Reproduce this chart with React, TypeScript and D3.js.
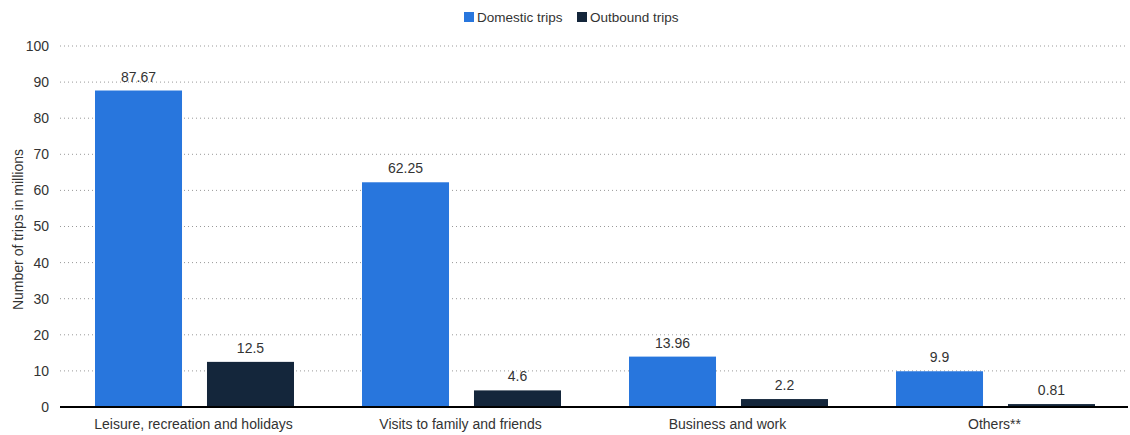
import React from "react";
import * as d3 from "d3";

const categories = ["Leisure, recreation and holidays", "Visits to family and friends", "Business and work", "Others**"];
const seriesNames = ["Domestic trips", "Outbound trips"];
const domesticValues = [87.67, 62.25, 13.96, 9.9];
const outboundValues = [12.5, 4.6, 2.2, 0.81];
const yTicks = [0, 10, 20, 30, 40, 50, 60, 70, 80, 90, 100];
const colors = ["#2876DD", "#14263B"];

export default function App() {
  const W = 1130, H = 435;
  const left = 60, right = 1128, top = 46, bottom = 407;
  const y = d3.scaleLinear().domain([0, 100]).range([bottom, top]);
  const x0 = d3.scaleBand<string>().domain(categories).range([left, right]).padding(0);
  const x1 = d3.scaleBand<string>().domain(seriesNames).range([35, 234]).paddingInner(0.223).paddingOuter(0);
  const series = [domesticValues, outboundValues];
  const font = "'Liberation Sans', Arial, sans-serif";
  return (
    <svg width={W} height={H} style={{ position: "absolute", left: 0, top: 0, fontFamily: font }}>
      <rect width={W} height={H} fill="#fff" />
      {/* legend */}
      <g>
        <rect x={464} y={12} width={10} height={10} fill={colors[0]} />
        <text x={477} y={22} fontSize={13.5} fill="#333">{seriesNames[0]}</text>
        <rect x={577} y={12} width={10} height={10} fill={colors[1]} />
        <text x={590} y={22} fontSize={13.5} fill="#333">{seriesNames[1]}</text>
      </g>
      {/* grid */}
      {yTicks.map((t) => (
        <g key={t}>
          {t > 0 && (
            <line x1={left} x2={right} y1={y(t)} y2={y(t)} stroke="#999" strokeWidth={1} strokeDasharray="1,3" />
          )}
          <text x={49} y={y(t)} dy="0.35em" textAnchor="end" fontSize={14} fill="#333">{t}</text>
        </g>
      ))}
      <text transform={`translate(23,${(top + bottom) / 2 + 3}) rotate(-90)`} textAnchor="middle" fontSize={14} fill="#333">
        Number of trips in millions
      </text>
      {/* bars */}
      {categories.map((c, i) => (
        <g key={c} transform={`translate(${x0(c)},0)`}>
          {seriesNames.map((s, j) => {
            const v = series[j][i];
            const bx = x1(s)!;
            const bw = x1.bandwidth();
            return (
              <g key={s}>
                <rect x={bx} y={y(v)} width={bw} height={bottom - y(v)} fill={colors[j]} />
                <text x={bx + bw / 2} y={y(v) - 9} textAnchor="middle" fontSize={14} fill="#333">{v}</text>
              </g>
            );
          })}
          <text x={x0.bandwidth() / 2} y={429} textAnchor="middle" fontSize={14} fill="#333">{c}</text>
        </g>
      ))}
      <line x1={left} x2={right} y1={bottom} y2={bottom} stroke="#000" strokeWidth={2} />
    </svg>
  );
}
